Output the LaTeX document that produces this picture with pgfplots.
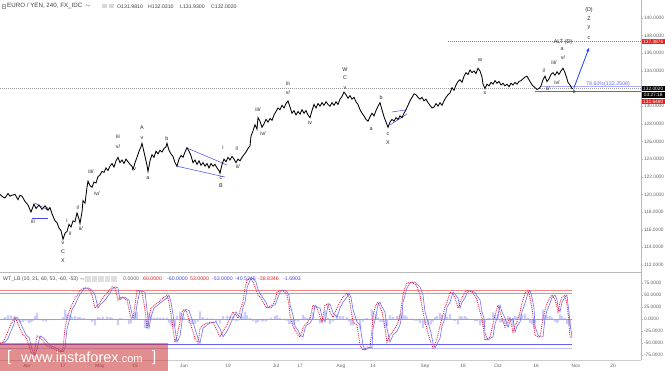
\documentclass[border=0pt]{standalone}
\usepackage{fontspec}
\setmainfont{Liberation Sans}
\usepackage{pgfplots}
\pgfplotsset{compat=1.18}
\usepackage{pgfplotstable}
\usetikzlibrary{arrows.meta}

\definecolor{tvred}{RGB}{240,30,30}
\definecolor{tvblue}{RGB}{70,70,235}
\definecolor{arrowblue}{RGB}{30,60,255}
\definecolor{oscred}{RGB}{225,40,70}
\definecolor{oscblue}{RGB}{110,110,245}
\definecolor{wm}{RGB}{205,50,50}

\pgfplotstableread{
x p
0 120.0
3 119.7
5 119.6
8 120.1
10 119.8
12 119.9
15 120.0
18 119.4
20 119.9
22 119.8
25 119.2
28 118.8
31 118.0
34 118.9
36 118.4
39 118.8
42 118.3
45 118.7
48 118.2
50 118.5
52 117.8
55 117.0
57 116.8
59 116.2
61 115.9
63 114.9
65 115.6
67 115.8
69 116.6
71 116.3
73 117.0
75 116.9
77 117.9
79 117.2
80 116.7
82 118.0
83 119.3
85 119.0
87 120.8
88 121.5
90 121.0
92 120.8
94 121.4
96 121.3
98 122.0
100 122.2
102 122.6
104 122.5
106 123.0
108 122.7
110 123.2
112 123.5
114 123.1
116 123.8
118 124.2
120 123.6
122 123.9
124 123.5
126 124.0
128 123.7
130 123.4
132 123.2
133 122.8
135 123.6
137 124.2
139 124.9
141 125.4
142 125.8
144 124.8
146 123.8
147 123.3
148 122.6
150 123.8
152 124.5
154 124.2
156 124.9
158 124.6
160 125.0
162 124.8
164 125.2
166 125.4
167 125.8
169 125.0
171 124.6
173 124.3
175 123.6
177 123.2
179 124.0
181 124.4
183 124.2
185 124.8
187 125.3
189 124.9
191 124.4
193 123.6
195 123.9
197 123.4
199 123.8
201 123.3
203 123.6
205 123.2
207 123.5
209 123.0
211 123.5
213 123.2
215 123.4
217 123.0
219 122.7
220 122.4
222 123.4
224 124.0
226 123.7
228 124.2
230 123.9
232 124.3
234 124.0
236 123.6
238 124.0
240 123.8
242 124.2
244 124.5
246 124.8
248 125.2
250 125.5
251 126.6
253 127.2
255 127.9
257 127.4
258 128.7
260 128.3
262 127.6
264 128.0
266 128.5
268 128.2
270 128.6
272 128.4
274 129.0
276 129.4
278 129.8
280 129.6
282 130.1
284 129.8
286 130.3
288 130.6
290 129.9
292 129.2
294 129.5
296 129.0
298 129.4
300 129.1
302 129.6
304 129.2
306 129.5
308 129.0
310 128.7
312 129.5
314 130.2
316 129.8
318 130.3
320 130.0
322 130.4
324 130.1
326 130.5
328 130.2
330 130.0
332 130.4
334 130.1
336 130.5
338 130.2
340 130.8
342 131.1
344 131.6
346 131.3
348 130.9
350 131.2
352 130.8
354 131.0
356 130.5
358 130.2
360 129.6
362 129.2
364 128.9
366 128.5
368 128.3
370 128.8
372 129.2
374 128.9
376 129.5
378 130.0
380 130.4
382 129.6
384 128.8
386 128.2
388 127.6
390 128.2
392 128.5
394 128.3
396 128.7
398 128.5
400 128.9
402 128.7
404 129.2
406 129.6
408 130.1
410 130.6
412 131.0
414 131.4
416 131.3
418 131.0
420 130.8
422 131.0
424 130.6
426 130.8
428 130.4
430 130.1
432 129.8
434 129.9
436 130.3
438 130.0
440 130.4
442 130.1
444 130.6
446 131.0
448 131.3
450 131.5
452 132.1
454 131.8
456 132.4
458 132.8
460 133.0
462 132.7
464 133.4
466 133.8
468 133.6
470 134.1
472 133.8
474 134.0
476 133.7
478 134.3
480 134.0
482 133.3
483 132.5
485 132.0
487 132.5
489 132.3
491 132.7
493 132.5
495 132.9
497 132.6
499 132.8
501 132.4
503 132.6
505 132.3
507 132.5
509 132.2
511 132.6
513 132.4
515 132.7
517 132.5
519 132.8
521 132.9
523 133.1
525 133.3
527 133.4
529 133.0
531 132.6
533 132.3
535 132.1
537 131.9
539 132.0
541 132.3
543 133.0
545 133.4
547 132.8
549 133.1
551 133.6
553 133.8
555 133.5
557 133.9
559 133.6
561 134.0
563 134.3
565 133.8
567 133.1
568 132.7
570 132.4
572 132.0
573 132.0
}\price

\pgfplotstableread{
x w1 w2 d
0 -50 -50 0
3 -48 -50 1
5 -40 -48 4
8 -25 -40 8
11 -10 -25 8
14 0 -10 5
15 4 0 2
17 -5 4 -4
20 -20 -5 -8
23 -33 -20 -6
26 -38 -33 -3
29 -55 -38 -8
31 -68 -55 -6
33 -75 -68 -4
35 -62 -75 6
37 -35 -62 13
40 -38 -35 -2
43 -45 -38 -4
46 -55 -45 -5
50 -58 -55 -2
54 -62 -58 -2
58 -66 -62 -2
61 -68 -66 -1
63 -60 -68 4
65 -20 -60 20
67 2 -20 11
70 20 2 9
72 30 20 5
75 44 30 7
78 52 44 4
80 60 52 4
83 64 60 2
85 65 64 1
88 63 65 -1
90 60 63 -2
92 50 60 -5
95 23 50 -13
98 30 23 4
100 35 30 3
103 45 35 5
107 54 45 5
110 62 54 4
112 67 62 3
115 65 67 -1
118 40 65 -13
120 44 40 2
122 46 44 1
125 42 46 -2
127 40 42 -1
129 20 40 -10
131 2 20 -9
133 2 2 0
135 30 2 14
137 60 30 15
140 58 60 -1
142 56 58 -1
145 20 56 -18
147 -19 20 -20
149 5 -19 12
151 23 5 9
154 28 23 3
157 33 28 3
160 38 33 3
163 44 38 3
167 50 44 3
169 35 50 -8
171 10 35 -13
173 -20 10 -15
175 -48 -20 -14
177 -35 -48 7
180 -5 -35 15
182 15 -5 10
184 20 15 3
186 18 20 -1
189 0 18 -9
192 -20 0 -10
195 -40 -20 -10
198 -50 -40 -5
200 -19 -50 16
203 -12 -19 4
207 -8 -12 2
210 -7 -8 1
213 -6 -7 1
216 -20 -6 -7
220 -37 -20 -9
223 -25 -37 6
227 -12 -25 7
230 2 -12 7
233 15 2 7
236 8 15 -4
238 2 8 -3
241 25 2 12
243 35 25 5
245 65 35 15
247 81 65 8
250 85 81 2
253 77 85 -4
256 62 77 -8
258 50 62 -6
261 44 50 -3
263 35 44 -5
266 25 35 -5
268 23 25 -1
271 29 23 3
273 29 29 0
275 40 29 6
277 56 40 8
280 60 56 2
282 60 60 0
285 56 60 -2
287 50 56 -3
289 30 50 -10
290 8 30 -11
293 -15 8 -12
295 -23 -15 -4
298 -33 -23 -5
300 -37 -33 -2
303 -19 -37 9
305 -12 -19 4
307 -8 -12 2
310 2 -8 5
313 29 2 14
315 25 29 -2
317 23 25 -1
320 5 23 -9
322 -6 5 -6
325 29 -6 18
328 32 29 2
330 13 32 -10
333 4 13 -5
337 23 4 10
340 35 23 6
343 46 35 6
347 54 46 4
349 45 54 -5
351 20 45 -13
353 -6 20 -13
357 -12 -6 -3
360 -54 -12 -20
363 -64 -54 -5
365 -62 -64 1
367 -58 -62 2
370 -60 -58 -1
372 -20 -60 20
373 8 -20 14
376 30 8 11
378 35 30 3
380 25 35 -5
382 15 25 -5
385 -20 15 -18
387 -48 -20 -14
390 -33 -48 8
393 -25 -33 4
397 -12 -25 7
400 8 -12 10
402 35 8 14
403 50 35 8
405 65 50 8
407 75 65 5
410 76 75 1
412 77 76 1
415 72 77 -3
417 67 72 -3
420 50 67 -9
423 15 50 -18
425 -6 15 -11
428 -29 -6 -12
431 -50 -29 -11
433 -60 -50 -5
435 -52 -60 4
437 -40 -52 6
440 -15 -40 13
442 2 -15 9
445 25 2 12
447 35 25 5
450 56 35 11
453 52 56 -2
455 44 52 -4
458 23 44 -11
460 35 23 6
462 44 35 5
465 55 44 6
467 60 55 3
470 58 60 -1
472 56 58 -1
475 48 56 -4
477 40 48 -4
480 15 40 -13
482 2 15 -7
484 -30 2 -16
485 -44 -30 -7
488 -40 -44 2
490 -37 -40 2
493 -10 -37 14
495 8 -10 9
498 29 8 11
500 15 29 -7
502 2 15 -7
505 -17 2 -10
508 -5 -17 6
510 2 -5 4
513 -27 2 -15
515 -15 -27 6
517 -6 -15 5
520 15 -6 11
522 33 15 9
525 54 33 11
528 60 54 3
530 45 60 -8
532 23 45 -11
534 -15 23 -19
535 -33 -15 -9
538 -37 -33 -2
540 -37 -37 0
543 2 -37 20
545 18 2 8
547 33 18 8
550 45 33 6
552 50 45 3
555 40 50 -5
557 25 40 -8
558 15 25 -5
560 35 15 10
562 46 35 6
565 50 46 2
567 30 50 -10
568 15 30 -8
569 -10 15 -13
570 -37 -10 -14
572 -39 -37 -1
}\osc

\begin{document}
\begin{tikzpicture}[x=1pt,y=1pt]
\useasboundingbox (0pt,-371pt) rectangle (665pt,0pt);
\fill[white] (0pt,-371pt) rectangle (665pt,0pt);

% ---------------- price panel ----------------
\begin{axis}[at={(0pt,0pt)}, anchor=north west,
  width=641pt, height=272pt, scale only axis,
  xmin=0, xmax=641, ymin=111.2, ymax=142.04,
  axis line style={draw=none},
  xtick=\empty,
  ytick={112,114,116,118,120,122,124,126,128,130,132,134,136,138,140},
  yticklabels={112.0000,114.0000,116.0000,118.0000,120.0000,122.0000,124.0000,126.0000,128.0000,130.0000,132.0000,134.0000,136.0000,138.0000,140.0000},
  ytick pos=right, yticklabel pos=right,
  tick align=outside, major tick length=2pt,
  tick style={gray!60, line width=0.3pt},
  yticklabel style={font=\fontsize{4.8}{5}\selectfont, text=black!60, inner sep=0.8pt},
  clip=false]

% reference lines
\draw[gray!80, dash pattern=on 1pt off 1pt, line width=0.4pt] (axis cs:0,132.002) -- (axis cs:641,132.002);
\draw[tvred!80, dash pattern=on 1pt off 1pt, line width=0.4pt] (axis cs:448,137.3876) -- (axis cs:641,137.3876);
\draw[tvblue!45, line width=0.5pt] (axis cs:540,132.2508) -- (axis cs:641,132.2508);
\draw[tvred!90, line width=0.5pt] (axis cs:535,131.648) -- (axis cs:641,131.648);

% wedges
\draw[tvblue, line width=0.5pt] (axis cs:35,119.0) -- (axis cs:47,118.3);
\draw[tvblue, line width=0.5pt] (axis cs:32,117.32) -- (axis cs:48,117.32);
\draw[tvblue, line width=0.5pt] (axis cs:187,125.26) -- (axis cs:227,123.33);
\draw[tvblue, line width=0.5pt] (axis cs:176,123.22) -- (axis cs:225,121.97);
\draw[tvblue, line width=0.5pt] (axis cs:392,129.34) -- (axis cs:405,129.57);
\draw[tvblue, line width=0.5pt] (axis cs:390,127.87) -- (axis cs:407,129.12);

\addplot[black, line width=0.85pt] table[x=x,y=p]{\price};

\draw[arrowblue, line width=0.8pt, -{Stealth[length=4pt,width=3.5pt]}] (axis cs:574,132.1) -- (axis cs:589,136.6);

% wave labels
\begin{scope}[every node/.style={font=\fontsize{5.4}{5.4}\selectfont, text=black!85, inner sep=0pt}]
\node at (axis cs:33,116.87) {iii};
\node at (axis cs:48,118.34) {iv};
\node at (axis cs:63,114.49) {v};
\node at (axis cs:63,113.47) {C};
\node at (axis cs:63,112.45) {X};
\node at (axis cs:67,116.98) {i};
\node at (axis cs:70,115.51) {ii};
\node at (axis cs:78,118.46) {i/};
\node at (axis cs:81,116.08) {ii/};
\node at (axis cs:91,122.54) {iii/};
\node at (axis cs:97,120.05) {iv/};
\node at (axis cs:118,126.51) {iii};
\node at (axis cs:118,125.37) {v/};
\node at (axis cs:134,122.88) {iv};
\node at (axis cs:142,127.53) {A};
\node at (axis cs:142,126.39) {v};
\node at (axis cs:148,121.86) {a};
\node at (axis cs:167,126.28) {b};
\node at (axis cs:221,121.86) {c};
\node at (axis cs:221,120.95) {B};
\node at (axis cs:223,125.26) {i};
\node at (axis cs:237,125.15) {i/};
\node at (axis cs:238,123.11) {ii/};
\node at (axis cs:258,129.57) {iii/};
\node at (axis cs:263,126.85) {iv/};
\node at (axis cs:288,132.52) {iii};
\node at (axis cs:288,131.50) {v/};
\node at (axis cs:310,128.10) {iv};
\node at (axis cs:345,134.10) {W};
\node at (axis cs:345,133.20) {C};
\node at (axis cs:345,132.06) {v};
\node at (axis cs:371,127.41) {a};
\node at (axis cs:381,130.93) {b};
\node at (axis cs:388,126.85) {c};
\node at (axis cs:388,125.83) {X};
\node at (axis cs:480,135.24) {w};
\node at (axis cs:485,131.50) {x};
\node at (axis cs:544,133.99) {i/};
\node at (axis cs:548,131.95) {ii/};
\node at (axis cs:554,134.90) {iii/};
\node at (axis cs:557,132.63) {iv/};
\node at (axis cs:563,135.46) {v/};
\node at (axis cs:562,136.49) {a};
\node at (axis cs:563,137.28) {ALT (D)};
\node at (axis cs:574,131.61) {b};
\node at (axis cs:589,140.91) {(D)};
\node at (axis cs:589,139.89) {Z};
\node at (axis cs:589,138.87) {y};
\node at (axis cs:589,137.73) {c};
\end{scope}

\node[anchor=west, text=tvblue!80, font=\fontsize{5.3}{5}\selectfont, inner sep=0pt] at (axis cs:586,132.47) {78.60\%(132.2508)};

% price tags
\begin{scope}[every node/.style={anchor=west, font=\fontsize{4.8}{5}\selectfont, text=white, inner sep=0.9pt, minimum width=24pt, minimum height=5.2pt}]
\node[fill=tvred] at (axis cs:641,137.34) {137.3876};
\node[fill=black] at (axis cs:641,132.0) {132.0020};
\node[fill=black] at (axis cs:641,131.27) {03:27:18};
\node[fill=tvred] at (axis cs:641,130.53) {131.6480};
\end{scope}
\end{axis}

% ---------------- oscillator panel ----------------
\begin{axis}[at={(0pt,-272pt)}, anchor=north west,
  width=641pt, height=88pt, scale only axis,
  xmin=0, xmax=641, ymin=-85, ymax=98,
  axis line style={draw=none},
  xtick={27,63,100,135,184,228,276,300,341,373,425,463,498,536,576,613},
  xticklabels={Apr,17,May,15,Jun,19,Jul,17,Aug,14,Sep,18,Oct,16,Nov,20},
  xtick style={draw=none},
  xticklabel style={font=\fontsize{4.8}{5}\selectfont, text=black!60, inner sep=1pt, yshift=-1pt},
  ytick={-75,-50,-25,0,25,50,75},
  yticklabels={-75.0000,-50.0000,-25.0000,0.0000,25.0000,50.0000,75.0000},
  ytick pos=right, yticklabel pos=right,
  tick align=outside, major tick length=2pt,
  ytick style={gray!60, line width=0.3pt},
  yticklabel style={font=\fontsize{4.8}{5}\selectfont, text=black!60, inner sep=0.8pt},
  clip=false]

\addplot[ybar, bar width=2.4pt, fill=oscblue!35, draw=none] table[x=x,y=d]{\osc};

\addplot[tvred!55, line width=0.8pt] coordinates {(0,60) (572,60)};
\addplot[tvred!55, line width=0.8pt] coordinates {(0,53) (572,53)};
\addplot[oscblue!70, line width=0.6pt] coordinates {(0,0) (572,0)};
\addplot[tvblue!85, line width=0.7pt] coordinates {(0,-53) (572,-53)};
\addplot[tvblue!35, line width=0.9pt] coordinates {(0,-60) (572,-60)};

\addplot[oscblue, line width=0.6pt] table[x=x,y=w2]{\osc};
\addplot[oscred, line width=0.9pt, densely dotted] table[x=x,y=w1]{\osc};
\end{axis}

% separators
\draw[gray!55, line width=0.4pt] (641pt,0pt) -- (641pt,-360pt);
\draw[gray!55, line width=0.4pt] (0pt,-272pt) -- (641pt,-272pt);
\draw[gray!40, line width=0.4pt] (0pt,-360pt) -- (641pt,-360pt);

% header
\begin{scope}[every node/.style={anchor=west, font=\fontsize{6.2}{7}\selectfont, inner sep=0pt}]
\draw[gray!70, line width=0.3pt] (2pt,-4.5pt) rectangle (5.5pt,-8pt);
\draw[gray!70, line width=0.3pt] (2.7pt,-6.25pt) -- (4.8pt,-6.25pt);
\node[text=black!75] at (7pt,-6.3pt) {EURO / YEN, 240, FX\_IDC \,$\sim$};
\fill[gray!30] (102pt,-4pt) rectangle (107pt,-8.5pt);
\fill[gray!30] (109pt,-4pt) rectangle (114pt,-8.5pt);
\node[text=black!75, font=\fontsize{5.2}{7}\selectfont] at (117pt,-6.3pt) {O131.9810};
\node[text=black!75, font=\fontsize{5.2}{7}\selectfont] at (148pt,-6.3pt) {H132.0310};
\node[text=black!75, font=\fontsize{5.2}{7}\selectfont] at (180pt,-6.3pt) {L131.9300};
\node[text=black!75, font=\fontsize{5.2}{7}\selectfont] at (211pt,-6.3pt) {C132.0020};
\end{scope}

\begin{scope}[every node/.style={anchor=west, font=\fontsize{5.2}{6}\selectfont, inner sep=0pt}]
\node[text=black!70] at (3pt,-279pt) {WT\_LB (10, 21, 60, 53, -60, -53) $\sim$};
\foreach \i in {0,1,2,3,4} {\fill[gray!25] ({85pt+\i*6.6pt},-276pt) rectangle ({90.5pt+\i*6.6pt},-282pt);}
\node[text=black!60] at (123pt,-279pt) {0.0000};
\node[text=tvred] at (143pt,-279pt) {60.0000};
\node[text=tvblue] at (167pt,-279pt) {-60.0000};
\node[text=tvred] at (190pt,-279pt) {53.0000};
\node[text=tvblue] at (212pt,-279pt) {-53.0000};
\node[text=tvblue] at (235pt,-279pt) {-40.5245};
\node[text=tvred] at (258pt,-279pt) {-38.8346};
\node[text=tvblue] at (283pt,-279pt) {-1.6903};
\end{scope}

% watermark
\fill[wm, fill opacity=0.55] (0pt,-343pt) rectangle (168pt,-371pt);
\node[anchor=west, text=white, inner sep=0pt, font=\fontsize{15}{15}\selectfont] at (7pt,-357.5pt) {[};
\node[anchor=base west, text=white, inner sep=0pt] at (21pt,-363pt) {\fontsize{14.5}{15}\selectfont www.instaforex\fontsize{11}{12}\selectfont .com};
\node[anchor=west, text=white, inner sep=0pt, font=\fontsize{15}{15}\selectfont] at (152pt,-357.5pt) {]};
\end{tikzpicture}
\end{document}
